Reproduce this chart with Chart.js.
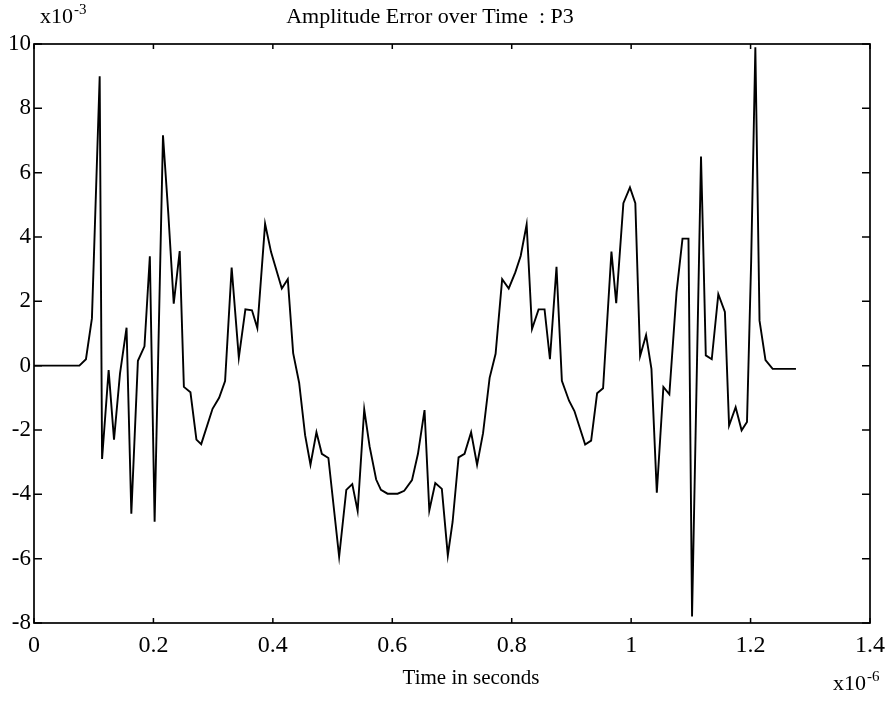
<!DOCTYPE html>
<html>
<head>
<meta charset="utf-8">
<script src="https://cdn.jsdelivr.net/npm/chart.js@4"></script>
<style>
  html, body { margin: 0; padding: 0; background: #fff; }
  #wrap { width: 893px; height: 713px; position: relative; }
</style>
</head>
<body>
<div id="wrap"><canvas id="c" width="893" height="713"></canvas></div>
<script>
// ---- data (time in units of 1e-6 s, amplitude error in units of 1e-3) ----
const times = [
  0, 0.076, 0.087, 0.097, 0.110, 0.114, 0.125, 0.134, 0.144, 0.155,
  0.163, 0.174, 0.185, 0.194, 0.202, 0.216, 0.225, 0.234, 0.244, 0.251,
  0.262, 0.272, 0.280, 0.299, 0.310, 0.320, 0.331, 0.343, 0.354, 0.365,
  0.374, 0.387, 0.397, 0.415, 0.425, 0.434, 0.444, 0.454, 0.463, 0.473,
  0.482, 0.493, 0.511, 0.523, 0.533, 0.542, 0.553, 0.562, 0.573, 0.581,
  0.592, 0.609, 0.620, 0.633, 0.643, 0.654, 0.662, 0.672, 0.683, 0.693,
  0.701, 0.711, 0.721, 0.732, 0.742, 0.752, 0.763, 0.773, 0.784, 0.795,
  0.806, 0.815, 0.825, 0.834, 0.845, 0.855, 0.864, 0.875, 0.884, 0.896,
  0.905, 0.923, 0.933, 0.943, 0.953, 0.967, 0.975, 0.987, 0.998, 1.007,
  1.015, 1.025, 1.034, 1.043, 1.054, 1.064, 1.076, 1.086, 1.096, 1.102,
  1.117, 1.120, 1.125, 1.135, 1.146, 1.157, 1.164, 1.175, 1.185, 1.194,
  1.201, 1.208, 1.215, 1.225, 1.237, 1.276
];
const errors = [
  0, 0, 0.2, 1.47, 9.0, -2.9, -0.14, -2.3, -0.25, 1.18,
  -4.6, 0.15, 0.6, 3.4, -4.85, 7.16, 4.7, 1.93, 3.56, -0.66,
  -0.83, -2.3, -2.44, -1.34, -1.0, -0.48, 3.05, 0.25, 1.75, 1.72,
  1.17, 4.41, 3.53, 2.4, 2.69, 0.39, -0.53, -2.16, -3.08, -2.07,
  -2.74, -2.87, -5.94, -3.86, -3.68, -4.52, -1.36, -2.51, -3.54, -3.86,
  -3.98, -3.98, -3.89, -3.56, -2.74, -1.38, -4.5, -3.65, -3.83, -5.9,
  -4.86, -2.85, -2.74, -2.07, -3.08, -2.1, -0.38, 0.37, 2.69, 2.4,
  2.9, 3.41, 4.39, 1.14, 1.75, 1.75, 0.2, 3.07, -0.47, -1.09,
  -1.41, -2.45, -2.33, -0.86, -0.7, 3.55, 1.94, 5.05, 5.54, 5.05,
  0.3, 0.95, -0.1, -3.95, -0.66, -0.89, 2.28, 3.95, 3.95, -7.8,
  6.5, 4.3, 0.32, 0.2, 2.22, 1.67, -1.86, -1.29, -2.01, -1.75,
  3.26, 9.9, 1.4, 0.17, -0.1, -0.1
];
const xTicks = [0, 0.2, 0.4, 0.6, 0.8, 1, 1.2, 1.4];
const yTicks = [-8, -6, -4, -2, 0, 2, 4, 6, 8, 10];
const titleText = "Amplitude Error over Time  : P3";
const xLabelText = "Time in seconds";
const yExpText = ["x10", "-3"];
const xExpText = ["x10", "-6"];

const SERIF = '"Liberation Serif", "DejaVu Serif", serif';

const points = times.map((t, i) => ({ x: t, y: errors[i] }));

const framePlugin = {
  id: 'frame',
  afterDatasetsDraw(chart) {
    const ctx = chart.ctx;
    const a = chart.chartArea;
    const xs = chart.scales.x, ys = chart.scales.y;
    ctx.save();
    ctx.strokeStyle = '#000';
    ctx.lineWidth = 1.7;
    ctx.strokeRect(a.left, a.top, a.right - a.left, a.bottom - a.top);
    ctx.lineWidth = 1.5;
    ctx.beginPath();
    xTicks.forEach(v => {
      const px = xs.getPixelForValue(v);
      ctx.moveTo(px, a.bottom); ctx.lineTo(px, a.bottom - 5);
      ctx.moveTo(px, a.top); ctx.lineTo(px, a.top + 5);
    });
    yTicks.forEach(v => {
      const py = ys.getPixelForValue(v);
      ctx.moveTo(a.left, py); ctx.lineTo(a.left + 8, py);
      ctx.moveTo(a.right, py); ctx.lineTo(a.right - 8, py);
    });
    ctx.stroke();

    // texts
    ctx.fillStyle = '#000';
    ctx.textBaseline = 'alphabetic';
    ctx.font = '22px ' + SERIF;
    ctx.textAlign = 'center';
    ctx.fillText(titleText, 430, 23);
    ctx.font = '21px ' + SERIF;
    ctx.fillText(xLabelText, 471, 684);

    function expLabel(parts, x, y) {
      ctx.textAlign = 'left';
      ctx.font = '22px ' + SERIF;
      ctx.fillText(parts[0], x, y);
      const w = ctx.measureText(parts[0]).width;
      ctx.font = '15px ' + SERIF;
      ctx.fillText(parts[1], x + w + 1, y - 9);
    }
    expLabel(yExpText, 40, 23);
    expLabel(xExpText, 833, 690);
    ctx.restore();
  }
};

new Chart(document.getElementById('c'), {
  type: 'line',
  data: {
    datasets: [{
      data: points,
      borderColor: '#000',
      borderWidth: 1.9,
      pointRadius: 0,
      tension: 0,
      fill: false
    }]
  },
  options: {
    responsive: false,
    animation: false,
    devicePixelRatio: 1,
    layout: { padding: { top: 44, right: 19, bottom: 0, left: 0 } },
    plugins: { legend: { display: false }, tooltip: { enabled: false }, title: { display: false } },
    scales: {
      x: {
        type: 'linear',
        min: 0, max: 1.4,
        afterBuildTicks(s) { s.ticks = xTicks.map(v => ({ value: v })); },
        afterFit(s) { s.height = 90; },
        grid: { display: false, drawTicks: false },
        border: { display: false },
        ticks: {
          padding: 8,
          color: '#000',
          font: { family: SERIF, size: 24 },
          maxRotation: 0, autoSkip: false,
          callback: v => String(Number(v.toFixed(1)))
        }
      },
      y: {
        type: 'linear',
        min: -8, max: 10,
        afterBuildTicks(s) { s.ticks = yTicks.map(v => ({ value: v })); },
        afterFit(s) { s.width = 34; },
        grid: { display: false, drawTicks: false },
        border: { display: false },
        ticks: {
          padding: 3,
          color: '#000',
          font: { family: SERIF, size: 23 },
          autoSkip: false,
          callback: v => String(v)
        }
      }
    }
  },
  plugins: [framePlugin]
});
</script>
</body>
</html>
